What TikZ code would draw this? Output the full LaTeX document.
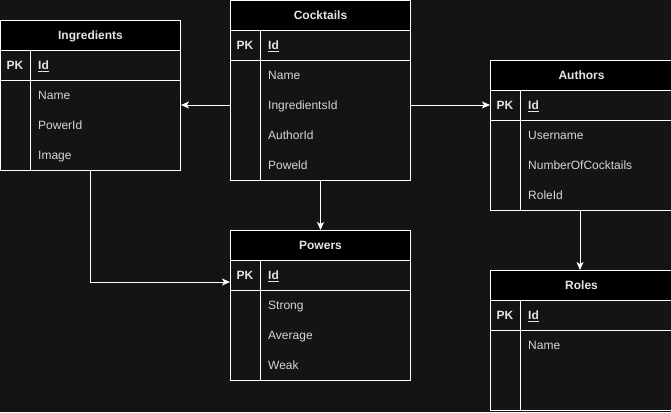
\documentclass[tikz,border=0pt]{standalone}
\usepackage{fontspec}
\setmainfont{Liberation Sans}
\usetikzlibrary{arrows.meta,calc}
\definecolor{bgc}{HTML}{141414}
\definecolor{txt}{HTML}{D6D6D6}
\definecolor{hdt}{HTML}{E4E4E4}
\tikzset{
  frame/.style={draw=white, line width=1pt, fill=bgc, inner sep=0pt, anchor=north west},
  hdr/.style={draw=white, line width=1pt, fill=black, inner sep=0pt, anchor=north west, minimum height=30pt, text height=8.6pt, text depth=0pt, text=hdt, font=\fontsize{12}{14}\selectfont\bfseries},
  rowbox/.style={draw=white, line width=1pt, inner sep=0pt, anchor=north west},
  fld/.style={anchor=base west, inner sep=0pt, text=txt, font=\fontsize{12}{14}\selectfont},
  pk/.style={anchor=base, inner sep=0pt, text=hdt, font=\fontsize{12}{14}\selectfont\bfseries},
  divl/.style={draw=white, line width=1pt},
  conn/.style={draw=white, line width=1pt, -{Stealth[length=8pt,width=7pt,inset=2pt]}},
}
\newcommand{\ertable}[6]{%
  % #1 name, #2 x, #3 y, #4 width, #5 total height, #6 title
  \node[frame, minimum width=#4pt, minimum height=#5pt] (#1) at (#2,#3) {};
  \node[hdr, minimum width=#4pt] (#1H) at (#2,#3) {#6};
  \node[rowbox, minimum width=#4pt, minimum height=30pt] (#1PK) at (#2,#3+30) {};
  \draw[divl] (#2+30,#3+30) -- (#2+30,#3+#5);
  \node[pk] (#1pkt) at (#2+15,#3+49.3) {PK};
  \node[fld, text=hdt, font=\fontsize{12}{14}\selectfont\bfseries] (#1id) at (#2+38,#3+49.3) {\underline{Id}};
}
\newcommand{\rowtext}[4]{\node[fld] (#1) at (#2,#3+4.3) {#4};}
\begin{document}
\begin{tikzpicture}[x=1pt,y=-1pt]
\fill[bgc] (0,0) rectangle (671,412);
\useasboundingbox (0,0) rectangle (671,412);

% Ingredients
\ertable{ing}{0}{20}{180}{150}{Ingredients}
\rowtext{ingA}{38}{95}{Name}
\rowtext{ingB}{38}{125}{PowerId}
\rowtext{ingC}{38}{155}{Image}

% Cocktails
\ertable{coc}{230}{0}{180}{180}{Cocktails}
\rowtext{cocA}{268}{75}{Name}
\rowtext{cocB}{268}{105}{IngredientsId}
\rowtext{cocC}{268}{135}{AuthorId}
\rowtext{cocD}{268}{165}{Poweld}

% Authors
\ertable{aut}{490}{60}{182}{150}{Authors}
\rowtext{autA}{528}{135}{Username}
\rowtext{autB}{528}{165}{NumberOfCocktails}
\rowtext{autC}{528}{195}{RoleId}

% Powers
\ertable{pow}{230}{230}{180}{150}{Powers}
\rowtext{powA}{268}{305}{Strong}
\rowtext{powB}{268}{335}{Average}
\rowtext{powC}{268}{365}{Weak}

% Roles
\ertable{rol}{490}{270}{182}{140}{Roles}
\rowtext{rolA}{528}{345}{Name}

% connectors
\coordinate (midc) at (0,105);
\draw[conn] (coc.west |- midc) -- (ing.east |- midc);
\draw[conn] (coc.east |- midc) -- (aut.west |- midc);
\draw[conn] (coc.south) -- (coc.south |- pow.north);
\coordinate (bend) at (90,282);
\draw[conn] (ing.south -| bend) -- (bend) -- (pow.west |- bend);
\coordinate (rtop) at (580,0);
\draw[conn] (aut.south -| rtop) -- (rol.north -| rtop);
\end{tikzpicture}
\end{document}
